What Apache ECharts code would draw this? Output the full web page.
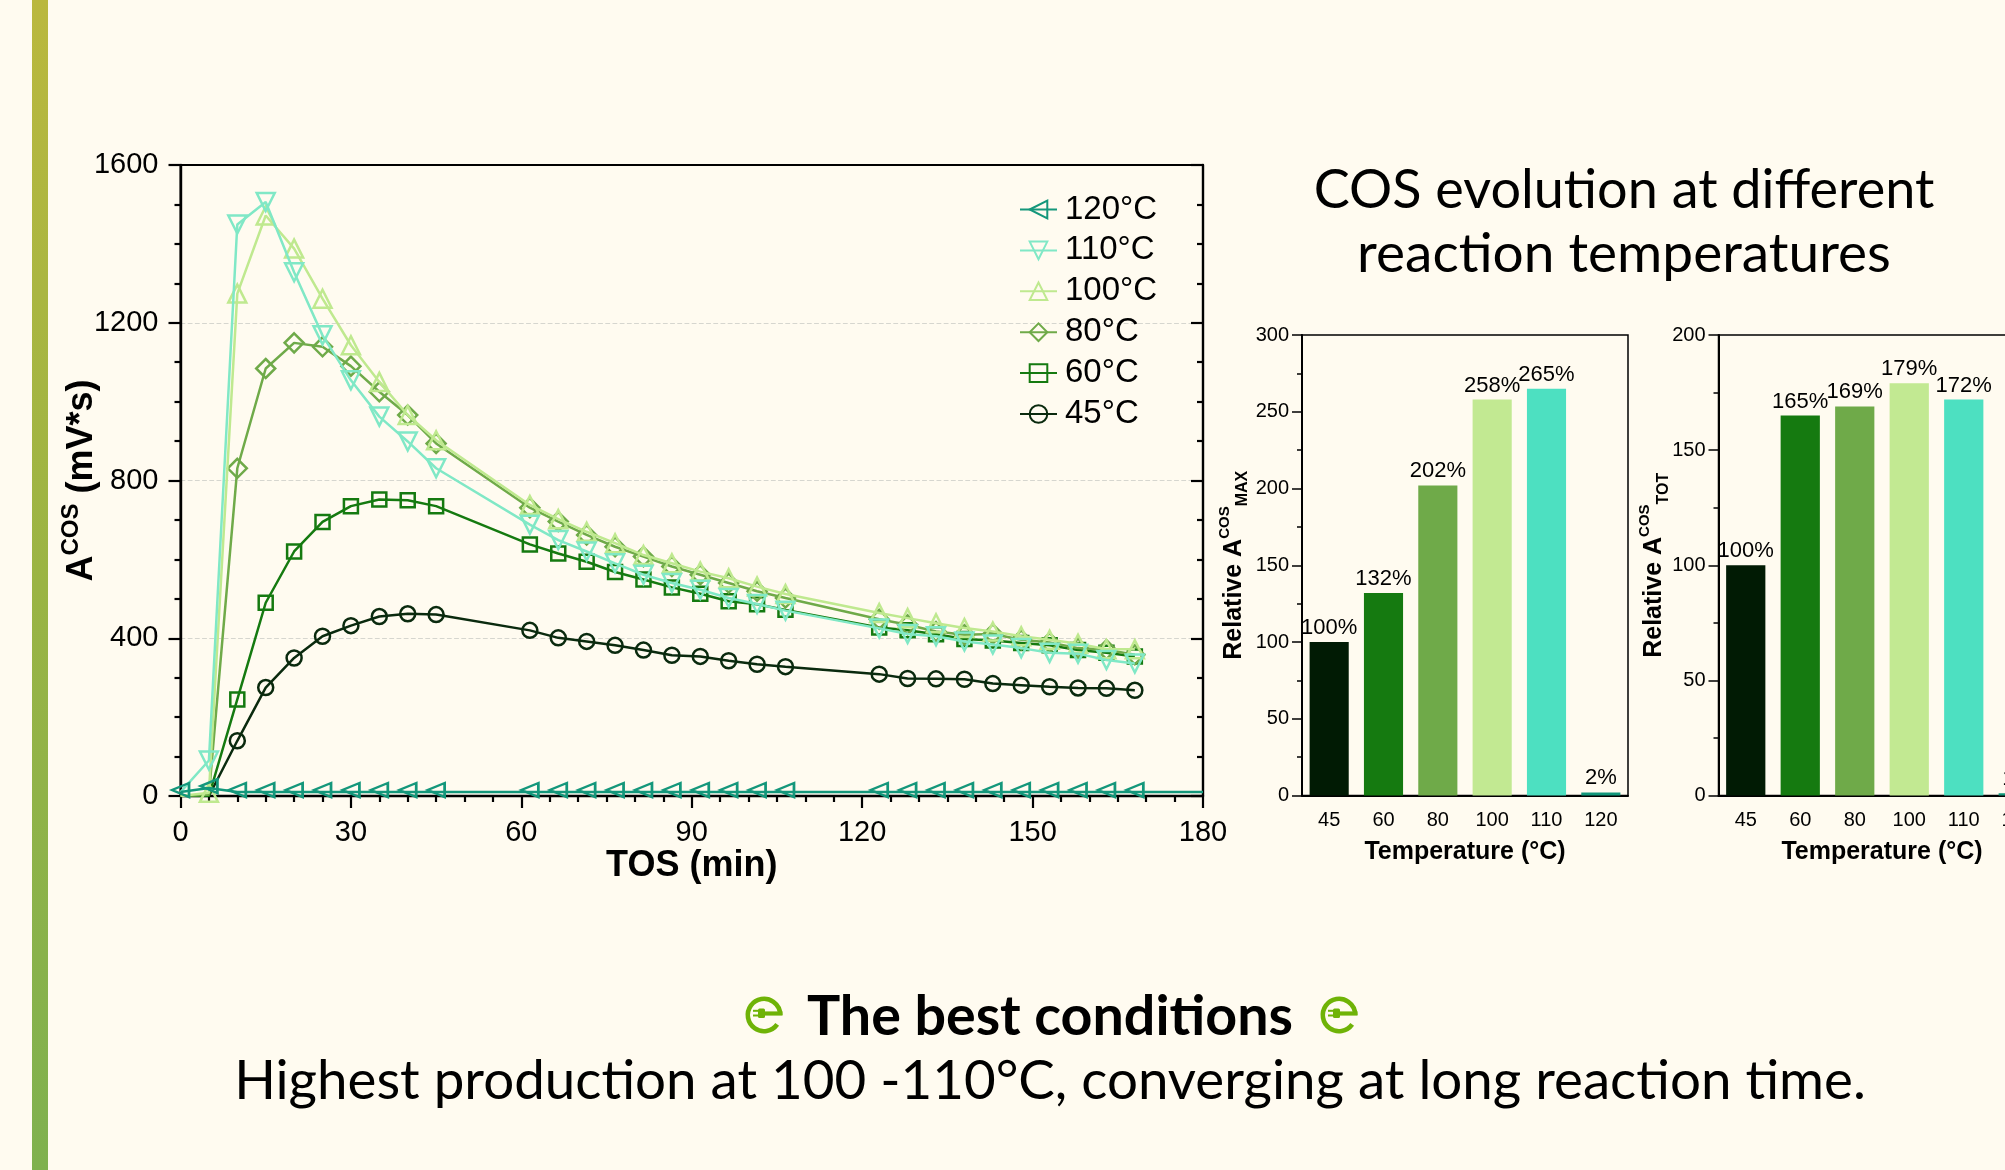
<!DOCTYPE html>
<html><head><meta charset="utf-8">
<style>html,body{margin:0;padding:0;background:#fffbf0;overflow:hidden}#c{width:2005px;height:1170px}</style>
<script src="https://cdn.jsdelivr.net/npm/echarts@6/dist/echarts.min.js"></script>
</head><body><div id="c"></div>
<script>
const tos = [0,5,10,15,20,25,30,35,40,45,61.5,66.5,71.5,76.5,81.5,86.5,91.5,96.5,101.5,106.5,123,128,133,138,143,148,153,158,163,168];
const v45 = [0,0,140,275,350,405,432,455,462,460,420,401,392,382,370,357,354,343,334,328,309,298,297,296,285,281,277,274,273,268];
const v60 = [0,0,245,490,620,695,735,752,750,735,638,615,594,568,549,529,513,494,486,472,427,420,410,398,394,388,382,370,363,354];
const v80 = [0,3,831,1084,1149,1139,1090,1025,966,894,731,696,662,632,607,582,561,540,519,502,448,434,417,409,411,396,389,375,371,358];
const v100 = [0,8,1274,1472,1388,1261,1143,1050,966,902,738,702,670,641,611,590,569,552,531,512,464,451,438,426,417,405,396,386,372,372];
const v110 = [10,90,1449,1506,1328,1168,1054,962,899,831,688,649,620,590,561,540,523,502,487,470,425,411,405,392,384,375,363,361,345,336];
const v120 = [10,20,10,10,10,10,10,10,10,10,10,10,10,10,10,10,10,10,10,10,10,10,10,10,10,10,10,10,10,10,10];
const tos120 = tos.concat([180]);
const barCategories = ['45','60','80','100','110','120'];
const barMax = [100,132,202,258,265,2];
const barTot = [100,165,169,179,172,1];
const barColors = ['#011b04','#157a10','#6faa49','#c2e992','#4de0c1','#12977a'];
const lineNames = ['45°C','60°C','80°C','100°C','110°C','120°C'];
const lineColors = ['#0a2a0e','#157a10','#6faa49','#bfe98f','#80e8c6','#14977b'];
const titleLines = ['COS evolution at different','reaction temperatures'];
const bottomBold = 'The best conditions';
const bottomText = 'Highest production at 100 -110°C, converging at long reaction time.';

const SANS = 'Liberation Sans';
const UI = 'Lato';
const chart = echarts.init(document.getElementById('c'), null, {renderer:'canvas', width:2005, height:1170});

function pts(xs, ys, hide, last){
  return ys.map((y,i)=>{
    const it = {value:[xs[i],y]};
    if((hide && i<hide) || (last && i===ys.length-1)) it.symbol='none';
    return it;
  });
}
function lineS(i, xs, ys, symbol, size, rotate, hide, last, offset){
  return {type:'line', name:lineNames[i], xAxisIndex:0, yAxisIndex:0, data:pts(xs,ys,hide,last),
    symbol, symbolSize:size, symbolRotate:rotate, symbolOffset:offset||[0,0], showAllSymbol:true, z:2+i,
    lineStyle:{color:lineColors[i], width:2.5},
    itemStyle:{color:'rgba(0,0,0,0)', borderColor:lineColors[i], borderWidth:2.5},
    emphasis:{disabled:true}};
}
function barName(sub){ return '{m|Relative A}{sup|COS}{sub|'+sub+'}'; }
const barNameRich = {
  m:{fontFamily:SANS,fontWeight:'bold',fontSize:25,lineHeight:34,color:'#000'},
  sup:{fontFamily:SANS,fontWeight:'bold',fontSize:15,lineHeight:14,verticalAlign:'top',color:'#000'},
  sub:{fontFamily:SANS,fontWeight:'bold',fontSize:16,lineHeight:15,verticalAlign:'bottom',color:'#000'}
};
function barX(gi){ return [
  {type:'category',gridIndex:gi,data:barCategories,name:'Temperature (°C)',nameLocation:'middle',nameGap:44,
    nameTextStyle:{fontFamily:SANS,fontWeight:'bold',fontSize:25,color:'#000'},
    axisLine:{lineStyle:{color:'#000',width:2}},axisTick:{alignWithLabel:true,length:10,lineStyle:{color:'#000',width:1.5}},
    axisLabel:{fontFamily:SANS,fontSize:20,color:'#000',margin:15,interval:0}},
  {type:'category',gridIndex:gi,data:barCategories,position:'bottom',axisLine:{show:false},
    axisTick:{alignWithLabel:false,length:5,lineStyle:{color:'#000',width:1.5}},axisLabel:{show:false}}
];}
function barY(gi,max,interval,sub,gap){ return {type:'value',gridIndex:gi,min:0,max,interval,
  name:barName(sub),nameLocation:'middle',nameGap:gap,nameMoveOverlap:false,nameRotate:90,nameTextStyle:{rich:barNameRich},
  axisLine:{show:true,lineStyle:{color:'#000',width:2}},axisTick:{show:true,length:10,lineStyle:{color:'#000',width:1.5}},
  minorTick:{show:true,splitNumber:2,length:5,lineStyle:{color:'#000',width:1.5}},splitLine:{show:false},
  axisLabel:{fontFamily:SANS,fontSize:20,color:'#000',margin:13}};}
function barS(xi,yi,vals){ return {type:'bar',xAxisIndex:xi,yAxisIndex:yi,barWidth:'72%',
  data:vals.map((v,i)=>({value:v,itemStyle:{color:barColors[i]}})),
  label:{show:true,position:'top',distance:3,formatter:'{c}%',fontFamily:SANS,fontSize:22,color:'#000'},
  emphasis:{disabled:true}};}
function icon(cx,cy){ return {type:'group',x:cx,y:cy,children:[
  {type:'arc',shape:{cx:0,cy:0,r:16.2,startAngle:0.62,endAngle:Math.PI*2,clockwise:true},style:{fill:'none',stroke:'#6fb307',lineWidth:4.6}},
  {type:'rect',shape:{x:0,y:-3.6,width:18.5,height:4.2},style:{fill:'#6fb307'}},
  {type:'rect',shape:{x:-6,y:-6.6,width:7,height:9.6,r:1.5},style:{fill:'#6fb307'}},
  {type:'rect',shape:{x:-11,y:-5.2,width:5,height:2},style:{fill:'#6fb307'}},
  {type:'rect',shape:{x:-11,y:-0.5,width:5,height:2},style:{fill:'#6fb307'}}
]};}
function txt(text,x,y,size,weight){ return {type:'text',x,y,style:{text,fontFamily:UI,fontSize:size,fontWeight:weight,fill:'#000',textAlign:'center',textVerticalAlign:'middle'}}; }

const option = {
  backgroundColor:'#fffbf0', animation:false,
  grid:[
    {left:180.5,top:165,width:1022.5,height:631,show:true,borderColor:'#000',borderWidth:2,backgroundColor:'transparent',outerBoundsMode:'none'},
    {left:1302,top:335,width:326,height:460.5,show:true,borderColor:'#000',borderWidth:1.5,backgroundColor:'transparent',outerBoundsMode:'none'},
    {left:1718.5,top:335,width:327,height:460.5,show:true,borderColor:'#000',borderWidth:1.5,backgroundColor:'transparent',outerBoundsMode:'none'}
  ],
  legend:{show:true,left:1014,top:188,orient:'vertical',itemWidth:37,itemHeight:22,itemGap:7.9,
    data:lineNames.slice().reverse(),selectedMode:false,
    textStyle:{fontFamily:SANS,fontSize:33,lineHeight:32,color:'#000',padding:[0,0,0,3]}},
  xAxis:[
    {type:'value',gridIndex:0,min:0,max:180,interval:30,name:'TOS (min)',nameLocation:'middle',nameGap:52,nameMoveOverlap:false,
     nameTextStyle:{fontFamily:SANS,fontWeight:'bold',fontSize:36,color:'#000'},
     axisLine:{lineStyle:{color:'#000',width:2.4}},axisTick:{length:12,lineStyle:{color:'#000',width:2.2}},
     minorTick:{show:true,splitNumber:6,length:6,lineStyle:{color:'#000',width:2.2}},splitLine:{show:false},
     axisLabel:{fontFamily:SANS,fontSize:29,color:'#000',margin:22,hideOverlap:false,formatter:v=>String(v)}},
    ...barX(1),...barX(2)
  ],
  yAxis:[
    {type:'value',gridIndex:0,min:0,max:1600,interval:400,name:'{m|A}{sup|COS}{m| (mV*s)}',nameLocation:'middle',nameGap:75,nameMoveOverlap:false,nameRotate:90,
     nameTextStyle:{rich:{
       m:{fontFamily:SANS,fontWeight:'bold',fontSize:36,lineHeight:46,color:'#000'},
       sup:{fontFamily:SANS,fontWeight:'bold',fontSize:24,lineHeight:24,verticalAlign:'top',color:'#000'}}},
     axisLine:{show:true,lineStyle:{color:'#000',width:2.4}},axisTick:{show:true,length:12,lineStyle:{color:'#000',width:2.2}},
     minorTick:{show:true,splitNumber:4,length:6,lineStyle:{color:'#000',width:2.2}},
     splitLine:{show:true,showMinLine:false,showMaxLine:false,lineStyle:{color:'#d6d6cf',type:'dashed',width:1.2}},
     axisLabel:{fontFamily:SANS,fontSize:29,color:'#000',margin:22,formatter:v=>String(v)}},
    {type:'value',gridIndex:0,position:'right',min:0,max:1600,interval:400,
     axisLine:{show:true,lineStyle:{color:'#000',width:2.4}},axisTick:{show:true,inside:true,length:12,lineStyle:{color:'#000',width:2.2}},
     minorTick:{show:true,splitNumber:4,length:6,lineStyle:{color:'#000',width:2.2}},splitLine:{show:false},axisLabel:{show:false}},
    barY(1,300,50,'MAX',51),
    barY(2,200,50,'TOT',47)
  ],
  series:[
    lineS(0,tos,v45,'circle',15,0,2),
    lineS(1,tos,v60,'rect',14,0,2),
    lineS(2,tos,v80,'diamond',19,0,2),
    lineS(3,tos,v100,'triangle',18,0,1),
    lineS(4,tos,v110,'triangle',18,180,1),
    lineS(5,tos120,v120,'triangle',[14,17],90,0,true,[0,-2]),
    barS(1,2,barMax),
    barS(3,3,barTot)
  ],
  graphic:[
    {type:'rect',shape:{x:32,y:0,width:16,height:1170},z:-1,style:{fill:new echarts.graphic.LinearGradient(0,0,0,1,[
      {offset:0,color:'#bab83e'},{offset:0.5,color:'#9ab444'},{offset:1,color:'#7fb14f'}])}},
    txt(titleLines[0],1624,191,54,400),
    txt(titleLines[1],1624,254,55,400),
    txt(bottomBold,1050,1017,55.6,700),
    txt(bottomText,1050,1081,54.7,400),
    icon(764,1015),
    icon(1339,1015)
  ]
};
chart.setOption(option);
</script></body></html>
